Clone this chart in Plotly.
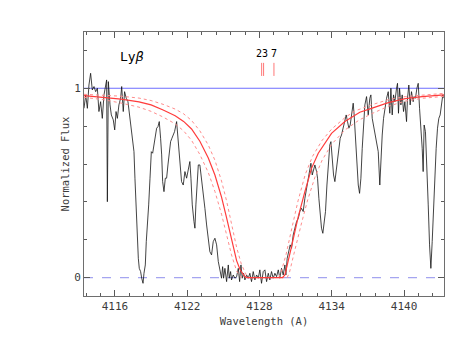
import plotly.graph_objects as go

# observed spectrum (wavelength in A, normalized flux)
wave = [4113.43, 4113.57, 4113.71, 4113.84, 4113.98, 4114.12, 4114.26, 4114.40, 4114.54, 4114.67,
        4114.81, 4114.95, 4115.09, 4115.23, 4115.31, 4115.37, 4115.45, 4115.59, 4115.70, 4115.86,
        4115.98, 4116.09, 4116.20, 4116.33, 4116.47, 4116.56, 4116.69, 4116.80, 4116.94, 4117.08,
        4117.22, 4117.30, 4117.44, 4117.58, 4117.66, 4117.77, 4117.86, 4117.94, 4118.02, 4118.13,
        4118.22, 4118.33, 4118.41, 4118.52, 4118.60, 4118.69, 4118.80, 4118.91, 4119.02, 4119.13,
        4119.24, 4119.35, 4119.46, 4119.57, 4119.68, 4119.79, 4119.88, 4119.96, 4120.07, 4120.18,
        4120.29, 4120.40, 4120.51, 4120.62, 4120.73, 4120.84, 4120.95, 4121.12, 4121.26, 4121.39,
        4121.53, 4121.67, 4121.81, 4121.95, 4122.09, 4122.22, 4122.31, 4122.42, 4122.56, 4122.64,
        4122.72, 4122.83, 4122.92, 4123.05, 4123.19, 4123.33, 4123.47, 4123.61, 4123.75, 4123.88,
        4124.02, 4124.16, 4124.30, 4124.44, 4124.58, 4124.71, 4124.85, 4124.94, 4125.02, 4125.13,
        4125.27, 4125.41, 4125.49, 4125.60, 4125.68, 4125.82, 4125.96, 4126.10, 4126.24, 4126.35,
        4126.46, 4126.57, 4126.68, 4126.79, 4126.93, 4127.07, 4127.20, 4127.34, 4127.48, 4127.62,
        4127.76, 4127.90, 4128.03, 4128.17, 4128.31, 4128.45, 4128.59, 4128.73, 4128.86, 4129.00,
        4129.14, 4129.28, 4129.42, 4129.56, 4129.69, 4129.83, 4129.97, 4130.11, 4130.19, 4130.30,
        4130.44, 4130.55, 4130.66, 4130.80, 4130.94, 4131.08, 4131.22, 4131.35, 4131.49, 4131.63,
        4131.77, 4131.91, 4132.05, 4132.18, 4132.27, 4132.38, 4132.49, 4132.60, 4132.74, 4132.82,
        4132.93, 4133.04, 4133.15, 4133.26, 4133.37, 4133.48, 4133.60, 4133.71, 4133.84, 4133.93,
        4134.04, 4134.15, 4134.26, 4134.37, 4134.48, 4134.59, 4134.70, 4134.81, 4134.95, 4135.09,
        4135.20, 4135.31, 4135.42, 4135.53, 4135.64, 4135.78, 4135.86, 4135.97, 4136.06, 4136.20,
        4136.31, 4136.42, 4136.53, 4136.64, 4136.75, 4136.89, 4137.03, 4137.16, 4137.25, 4137.36,
        4137.47, 4137.58, 4137.72, 4137.86, 4137.99, 4138.08, 4138.19, 4138.30, 4138.41, 4138.55,
        4138.69, 4138.82, 4138.91, 4139.02, 4139.13, 4139.24, 4139.38, 4139.46, 4139.54, 4139.63,
        4139.74, 4139.85, 4139.96, 4140.07, 4140.21, 4140.29, 4140.40, 4140.51, 4140.62, 4140.76,
        4140.84, 4140.95, 4141.07, 4141.18, 4141.29, 4141.40, 4141.51, 4141.59, 4141.67, 4141.78,
        4141.90, 4142.01, 4142.12, 4142.23, 4142.34, 4142.45, 4142.56, 4142.67, 4142.78, 4142.89,
        4143.00, 4143.11, 4143.22, 4143.33]
flux = [0.894, 0.965, 0.894, 1.017, 1.079, 0.991, 1.009, 0.982, 1.000, 0.877,
        0.929, 0.841, 0.965, 1.017, 1.044, 0.401, 1.035, 0.912, 0.859, 0.833,
        0.780, 0.877, 0.841, 0.912, 0.947, 1.009, 0.877, 0.982, 0.947, 0.929,
        0.859, 0.815, 0.753, 0.665, 0.525, 0.349, 0.208, 0.102, 0.049, 0.032,
        -0.003, -0.030, 0.023, 0.067, 0.190, 0.261, 0.384, 0.525, 0.665, 0.657,
        0.701, 0.727, 0.789, 0.797, 0.824, 0.736, 0.648, 0.507, 0.454, 0.525,
        0.525, 0.595, 0.648, 0.718, 0.736, 0.753, 0.771, 0.824, 0.718, 0.613,
        0.507, 0.489, 0.560, 0.525, 0.577, 0.613, 0.525, 0.384, 0.296, 0.261,
        0.384, 0.489, 0.595, 0.595, 0.525, 0.454, 0.366, 0.278, 0.208, 0.137,
        0.120, 0.190, 0.208, 0.173, 0.085, 0.049, -0.003, 0.058, -0.003, 0.049,
        -0.021, 0.067, -0.003, 0.032, -0.012, 0.014, -0.003, 0.005, 0.049, -0.021,
        0.067, -0.003, 0.023, -0.012, 0.014, -0.003, 0.023, -0.021, 0.032, -0.012,
        0.014, -0.003, 0.041, -0.030, 0.032, 0.041, -0.021, 0.023, -0.012, 0.032,
        -0.003, 0.023, 0.005, 0.041, -0.003, 0.049, 0.014, 0.067, 0.014, 0.102,
        0.137, 0.173, 0.155, 0.225, 0.261, 0.296, 0.313, 0.349, 0.366, 0.349,
        0.419, 0.472, 0.525, 0.560, 0.604, 0.542, 0.577, 0.595, 0.560, 0.525,
        0.419, 0.331, 0.261, 0.234, 0.313, 0.349, 0.489, 0.595, 0.701, 0.718,
        0.613, 0.542, 0.507, 0.560, 0.613, 0.683, 0.736, 0.753, 0.789, 0.841,
        0.859, 0.824, 0.789, 0.806, 0.859, 0.921, 0.859, 0.736, 0.595, 0.489,
        0.445, 0.525, 0.683, 0.806, 0.912, 0.956, 0.859, 0.947, 0.965, 0.841,
        0.806, 0.771, 0.718, 0.665, 0.489, 0.630, 0.753, 0.841, 0.894, 0.947,
        0.982, 0.868, 1.000, 0.859, 0.965, 0.929, 1.000, 1.026, 0.868, 1.000,
        0.912, 0.965, 0.877, 0.929, 0.824, 0.947, 1.017, 0.912, 0.982, 0.929,
        0.956, 0.947, 1.000, 1.026, 0.894, 0.806, 0.683, 0.560, 0.806, 0.771,
        0.595, 0.384, 0.173, 0.049, 0.190, 0.384, 0.542, 0.683, 0.789, 0.841,
        0.859, 0.929, 0.965, 0.947]

# Voigt fit and its error envelope
fit_wave = [4113.43, 4115.00, 4116.50, 4118.00, 4119.00, 4120.00, 4121.00, 4121.70, 4122.36, 4123.05,
            4123.75, 4124.30, 4124.85, 4125.27, 4125.68, 4126.10, 4126.40, 4126.79, 4127.00, 4129.90,
            4130.11, 4130.39, 4130.66, 4130.94, 4131.22, 4131.77, 4132.32, 4132.88, 4133.98, 4135.09,
            4136.33, 4137.30, 4138.70, 4140.10, 4141.50, 4143.33]
fit_flux = [0.961, 0.953, 0.943, 0.928, 0.912, 0.885, 0.855, 0.825, 0.785, 0.720,
            0.632, 0.542, 0.425, 0.315, 0.195, 0.090, 0.040, 0.006, 0.000, 0.000,
            0.014, 0.085, 0.164, 0.243, 0.322, 0.454, 0.577, 0.657, 0.762, 0.824,
            0.873, 0.894, 0.924, 0.945, 0.956, 0.965]

lo_wave = [4113.43, 4115.00, 4116.50, 4118.00, 4119.00, 4120.00, 4121.00, 4121.70, 4122.36, 4123.05,
           4123.75, 4124.30, 4124.85, 4125.27, 4125.68, 4126.10, 4126.50, 4130.30, 4130.50, 4130.80,
           4131.10, 4131.50, 4132.00, 4132.60, 4133.20, 4134.00, 4135.10, 4136.30, 4137.30, 4138.70,
           4140.10, 4141.50, 4143.33]
lo_flux = [0.952, 0.940, 0.922, 0.900, 0.878, 0.848, 0.812, 0.775, 0.725, 0.650,
           0.555, 0.455, 0.335, 0.225, 0.120, 0.035, 0.000, 0.000, 0.030, 0.110,
           0.190, 0.290, 0.410, 0.530, 0.620, 0.705, 0.780, 0.833, 0.865, 0.905,
           0.932, 0.947, 0.957]

hi_wave = [4113.43, 4115.00, 4116.50, 4118.00, 4119.00, 4120.00, 4121.00, 4121.70, 4122.36, 4123.05,
           4123.75, 4124.30, 4124.85, 4125.27, 4125.68, 4126.10, 4126.50, 4126.90, 4127.20, 4129.60,
           4129.80, 4130.20, 4130.70, 4131.20, 4131.80, 4132.40, 4133.20, 4134.00, 4135.10, 4135.92,
           4137.30, 4138.70, 4140.10, 4141.50, 4143.33]
hi_flux = [0.968, 0.963, 0.958, 0.948, 0.935, 0.915, 0.890, 0.865, 0.830, 0.775,
           0.700, 0.620, 0.510, 0.405, 0.280, 0.160, 0.070, 0.015, 0.000, 0.000,
           0.030, 0.120, 0.265, 0.405, 0.545, 0.640, 0.725, 0.785, 0.845, 0.880,
           0.912, 0.940, 0.956, 0.965, 0.973]

# velocity components marked above the line
comp_wave = [4128.18, 4128.34, 4129.20]
comp_text = ["23", "7"]
comp_text_x = [4128.20, 4129.22]

x_range = [4113.43, 4143.32]
y_range = [-0.097, 1.297]

font = "DejaVu Sans Mono"
grey = "rgb(60,60,60)"
fig = go.Figure()

fig.add_trace(go.Scatter(x=x_range, y=[1, 1], mode="lines",
                         line=dict(color="rgb(110,110,255)", width=1)))
fig.add_trace(go.Scatter(x=x_range, y=[0, 0], mode="lines",
                         line=dict(color="rgb(165,165,240)", width=1.3, dash="dash")))
fig.add_trace(go.Scatter(x=wave, y=flux, mode="lines",
                         line=dict(color="rgb(20,20,20)", width=0.8)))
fig.add_trace(go.Scatter(x=lo_wave, y=lo_flux, mode="lines",
                         line=dict(color="rgb(255,140,140)", width=1, dash="dot")))
fig.add_trace(go.Scatter(x=hi_wave, y=hi_flux, mode="lines",
                         line=dict(color="rgb(255,140,140)", width=1, dash="dot")))
fig.add_trace(go.Scatter(x=fit_wave, y=fit_flux, mode="lines",
                         line=dict(color="rgb(255,60,60)", width=1.2)))

for w in comp_wave:
    fig.add_shape(type="line", xref="x", yref="y", x0=w, x1=w, y0=1.065, y1=1.134,
                  line=dict(color="rgb(255,120,120)", width=1))
for t, w in zip(comp_text, comp_text_x):
    fig.add_annotation(x=w, y=1.181, text=t, showarrow=False,
                       font=dict(family=font, size=10, color="black"))

fig.add_annotation(x=4117.45, y=1.167, text="Ly<i>β</i>", showarrow=False,
                   font=dict(family=font, size=13, color="black"))

axis_common = dict(showgrid=False, zeroline=False, showline=True, linecolor="rgb(110,110,110)",
                   linewidth=1, mirror="ticks", ticks="inside", tickcolor="rgb(90,90,90)",
                   ticklen=6, automargin=False,
                   tickfont=dict(family=font, size=11, color=grey))

fig.update_xaxes(range=x_range, tick0=4116, dtick=6,
                 minor=dict(ticks="inside", dtick=1.2, tick0=4116, ticklen=3, tickcolor="rgb(90,90,90)"),
                 title=dict(text="Wavelength (A)", font=dict(family=font, size=10.5, color=grey),
                            standoff=5),
                 **axis_common)
fig.update_yaxes(range=y_range, tick0=0, dtick=1,
                 minor=dict(ticks="inside", dtick=0.2, tick0=0, ticklen=3, tickcolor="rgb(90,90,90)"),
                 title=dict(text="Normalized Flux", font=dict(family=font, size=10.5, color=grey),
                            standoff=2),
                 **axis_common)

# the page adds an 8 px body margin, so the margins are shifted by that much
fig.update_layout(width=458, height=354, showlegend=False,
                  margin=dict(l=76, r=22, t=24, b=66),
                  paper_bgcolor="white", plot_bgcolor="white")

fig.write_html("out.html")
